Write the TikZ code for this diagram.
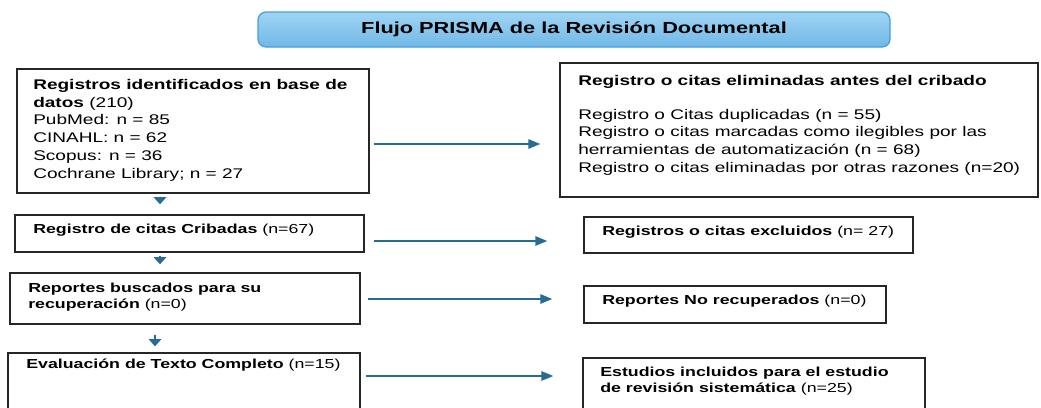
\documentclass[tikz,border=0pt]{standalone}
\usepackage{fontspec}
\setmainfont[FakeStretch=1.36]{Liberation Sans}
\usepackage{tikz}
\usetikzlibrary{arrows.meta, positioning, fit, calc}
\definecolor{flowBlue}{RGB}{40,108,148}
\definecolor{titleTop}{RGB}{160,212,243}
\definecolor{titleBottom}{RGB}{112,184,231}
\definecolor{titleEdge}{RGB}{70,160,220}

\begin{document}
\begin{tikzpicture}[x=0.75pt, y=-0.75pt,
    caja/.style={draw=black!85, line width=1pt, inner sep=0pt},
    texto/.style={anchor=north west, inner sep=0pt, align=left, font=\fontsize{10.5}{13.3}\selectfont},
    textoChico/.style={texto, font=\fontsize{9.8}{12}\selectfont},
    flecha/.style={draw=flowBlue, line width=1.3pt, -{Triangle[length=9pt, width=7pt]}},
    bajada/.style={draw=flowBlue, line width=1.3pt, -{Triangle[length=5.5pt, width=9.5pt]}}]
       % PRISMA の流れ
       \useasboundingbox (0,0) rectangle (1041,407);
       \clip (0,0) rectangle (1041,407);

       \node[caja, rounded corners=6pt, top color=titleTop, bottom color=titleBottom, draw=titleEdge,
             fit={(258,12) (890,47)}] (titulo) {};
       \node[font=\bfseries\fontsize{12}{14}\selectfont, inner sep=0pt] (tTitulo) at (titulo.center)
             {Flujo PRISMA de la Revisión Documental};

       \node[caja, fit={(17,69) (369,193)}] (ident) {};
       \node[caja, fit={(560,63) (1038,197)}] (elim) {};
       \node[caja, fit={(15,215) (364,252)}] (cribadas) {};
       \node[caja, fit={(584,217) (913,253)}] (excluidos) {};
       \node[caja, fit={(10,273) (360,324)}] (buscados) {};
       \node[caja, fit={(584,286) (886,323)}] (norecup) {};
       \node[caja, fit={(8,353) (360,430)}] (evaluacion) {};
       \node[caja, fit={(583,358) (925,430)}] (incluidos) {};

       \node[texto] (tIdent) at (33,79) {\textbf{Registros identificados en base de}\\
           \textbf{datos} (210)\\ PubMed: n = 85\\ CINAHL: n = 62\\ Scopus: n = 36\\ Cochrane Library; n = 27};
       \node[texto] (tElim) at (578,75) {\textbf{Registro o citas eliminadas antes del cribado}\\[12pt]
           Registro o Citas duplicadas (n = 55)\\
           Registro o citas marcadas como ilegibles por las\\
           herramientas de automatización (n = 68)\\
           Registro o citas eliminadas por otras razones (n=20)};
       \node[textoChico] (tCribadas) at (33,223.5) {\textbf{Registro de citas Cribadas} (n=67)};
       \node[textoChico] (tBuscados) at (28,282.5) {\textbf{Reportes buscados para su}\\ \textbf{recuperación} (n=0)};
       \node[textoChico] (tEvaluacion) at (26,358.5) {\textbf{Evaluación de Texto Completo} (n=15)};
       \node[textoChico] (tExcluidos) at (602,225.5) {\textbf{Registros o citas excluidos} (n= 27)};
       \node[textoChico] (tNorecup) at (602,294.5) {\textbf{Reportes No recuperados} (n=0)};
       \node[textoChico] (tIncluidos) at (600,367) {\textbf{Estudios incluidos para el estudio}\\
           \textbf{de revisión sistemática} (n=25)};

       \draw[flecha, shorten <=3pt, shorten >=14.25pt] (ident.east |- 0,144) -- (elim.west |- 0,144);
       \draw[flecha, shorten <=6.75pt, shorten >=27pt] (cribadas.east |- 0,241) -- (excluidos.west |- 0,241);
       \draw[flecha, shorten <=5.25pt, shorten >=23.25pt] (buscados.east |- 0,299) -- (norecup.west |- 0,299);
       \draw[flecha, shorten <=3.75pt, shorten >=21.75pt] (evaluacion.east |- 0,376) -- (incluidos.west |- 0,376);

       \draw[bajada, shorten <=2.25pt, shorten >=7.5pt] (ident.south -| 160,0) -- (cribadas.north -| 160,0);
       \draw[bajada, shorten <=2.25pt, shorten >=6pt] (cribadas.south -| 160,0) -- (buscados.north -| 160,0);
       \draw[bajada, shorten <=7.5pt, shorten >=4.5pt] (buscados.south -| 155,0) -- (evaluacion.north -| 155,0);
\end{tikzpicture}
\end{document}
